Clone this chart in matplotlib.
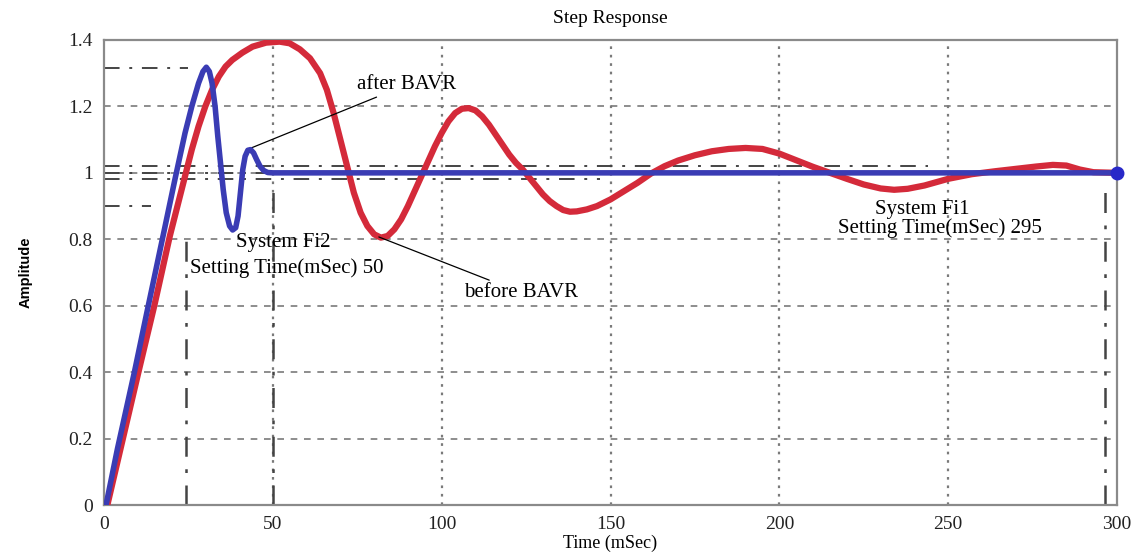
import numpy as np
import matplotlib.pyplot as plt

# values
t_before = [0, 1, 5.6, 10.2, 14.9, 19.5, 23, 26, 28, 30, 32, 34, 36, 38, 41, 44, 48, 52,
            55, 58, 61, 64, 66, 68, 70, 72, 74, 76, 78, 80, 82, 84, 86, 88, 90, 92, 94,
            96, 98, 100, 102, 104, 106, 108, 110, 112, 114, 116, 118, 120, 122, 124, 126,
            128, 130, 132, 134, 136, 138, 140, 143, 146, 150, 154, 158, 162, 166, 170,
            175, 180, 185, 190, 195, 200, 205, 210, 215, 220, 225, 230, 234, 238, 243,
            250, 257, 264, 270, 276, 281, 285, 289, 293, 300]
y_before = [0, 0.0, 0.2, 0.4, 0.6, 0.81, 0.95, 1.07, 1.14, 1.2, 1.25, 1.29, 1.32, 1.34,
            1.362, 1.38, 1.392, 1.395, 1.39, 1.372, 1.345, 1.30, 1.25, 1.18, 1.10, 1.02,
            0.94, 0.88, 0.84, 0.815, 0.805, 0.81, 0.83, 0.86, 0.90, 0.945, 0.99, 1.035,
            1.08, 1.12, 1.155, 1.18, 1.193, 1.195, 1.188, 1.17, 1.145, 1.115, 1.085, 1.055,
            1.03, 1.01, 0.985, 0.96, 0.935, 0.915, 0.90, 0.888, 0.883, 0.884, 0.89, 0.90,
            0.92, 0.945, 0.97, 0.998, 1.02, 1.037, 1.053, 1.065, 1.072, 1.075, 1.072, 1.058,
            1.038, 1.018, 1.0, 0.982, 0.965, 0.953, 0.949, 0.952, 0.962, 0.982, 0.996,
            1.005, 1.012, 1.019, 1.024, 1.022, 1.01, 1.002, 1.0]

t_after = [0, 0.6, 4, 9, 12.7, 17.9, 21, 24, 26, 28, 29.3, 30.3, 31.2, 32, 32.9, 33.7,
           34.5, 35.3, 36.2, 37.2, 38.1, 39, 39.7, 40.4, 41.1, 41.8, 42.6, 43.4, 44.3,
           45.2, 46.2, 47.3, 48.5, 50, 300]
y_after = [0, 0.0, 0.17, 0.40, 0.58, 0.83, 0.98, 1.12, 1.20, 1.27, 1.305, 1.318, 1.305,
           1.27, 1.20, 1.11, 1.03, 0.95, 0.88, 0.84, 0.828, 0.835, 0.87, 0.94, 1.01, 1.05,
           1.068, 1.07, 1.06, 1.04, 1.02, 1.007, 1.001, 1.0, 1.0]

x_ticks = [0, 50, 100, 150, 200, 250, 300]
y_ticks = [0, 0.2, 0.4, 0.6, 0.8, 1.0, 1.2, 1.4]
y_tick_labels = ['0', '0.2', '0.4', '0.6', '0.8', '1', '1.2', '1.4']

# marker lines (level, start, end)
h_marks = [(1.315, 0, 25), (1.022, 0, 244), (1.0, 0, 50), (0.983, 0, 147), (0.901, 0, 14)]
v_marks = [(24.2, 0, 0.83), (50, 0, 0.98), (296.5, 0, 0.96)]

serif = ['Liberation Serif', 'DejaVu Serif']

fig = plt.figure(figsize=(11.31, 5.53), dpi=100)
ax = fig.add_axes([104 / 1131, 48 / 553, 1013 / 1131, 465 / 553])

ax.set_xlim(0, 300)
ax.set_ylim(0, 1.4)
ax.set_xticks(x_ticks)
ax.set_yticks(y_ticks)
ax.set_yticklabels(y_tick_labels)
for lab in ax.get_xticklabels() + ax.get_yticklabels():
    lab.set_family(serif)
    lab.set_fontsize(14)
ax.tick_params(length=0, pad=8, colors='#222222')

for s in ax.spines.values():
    s.set_color('#8a8a8a')
    s.set_linewidth(1.6)

# grid: dotted verticals, dashed horizontals
for x in x_ticks[1:-1]:
    ax.axvline(x, color='#7a7a7a', lw=1.6, ls=(0, (1.2, 2.6)), zorder=1)
for y in y_ticks[1:-1]:
    ax.axhline(y, color='#7a7a7a', lw=1.2, ls=(0, (4, 4)), zorder=1)

for y, x0, x1 in h_marks:
    ax.plot([x0, x1], [y, y], color='#444444', lw=1.4, ls=(0, (8, 5, 1.5, 5)), zorder=2)
for x, y0, y1 in v_marks:
    ax.plot([x, x], [y0, y1], color='#444444', lw=1.8, ls=(0, (8, 5, 1.5, 5)), zorder=2)

ax.plot(t_before, y_before, color='#d42a3a', lw=4.5, zorder=3,
        solid_capstyle='round', solid_joinstyle='round')
ax.plot(t_after, y_after, color='#3a3cb4', lw=4.0, zorder=4,
        solid_capstyle='round', solid_joinstyle='round')
ax.plot([t_after[-1]], [y_after[-1]], 'o', color='#2828c8', ms=9, zorder=5, clip_on=False)

ax.annotate('after BAVR', xy=(43.6, 1.075), xytext=(75, 1.265), fontsize=15,
            family=serif, va='center', ha='left',
            arrowprops=dict(arrowstyle='-', color='black', lw=0.9, shrinkA=0, shrinkB=0))
ax.annotate('before BAVR', xy=(81.4, 0.807), xytext=(106.5, 0.64), fontsize=15,
            family=serif, va='center', ha='left',
            arrowprops=dict(arrowstyle='-', color='black', lw=0.9, shrinkA=0, shrinkB=0))

ax.text(53, 0.79, 'System Fi2', fontsize=15, family=serif, ha='center', va='center')
ax.text(54, 0.714, 'Setting Time(mSec) 50', fontsize=15, family=serif, ha='center', va='center')
ax.text(242.3, 0.889, 'System Fi1', fontsize=15, family=serif, ha='center', va='center')
ax.text(247.6, 0.834, 'Setting Time(mSec) 295', fontsize=15, family=serif, ha='center', va='center')

ax.set_title('Step Response', fontsize=14, family=serif, pad=12)
ax.set_xlabel('Time (mSec)', fontsize=13, family=serif, labelpad=1)
ax.set_ylabel('Amplitude', fontsize=10.5, family=['Liberation Sans', 'DejaVu Sans'],
              fontweight='bold', labelpad=26)

fig.savefig('out.png', dpi=100, facecolor='white')
